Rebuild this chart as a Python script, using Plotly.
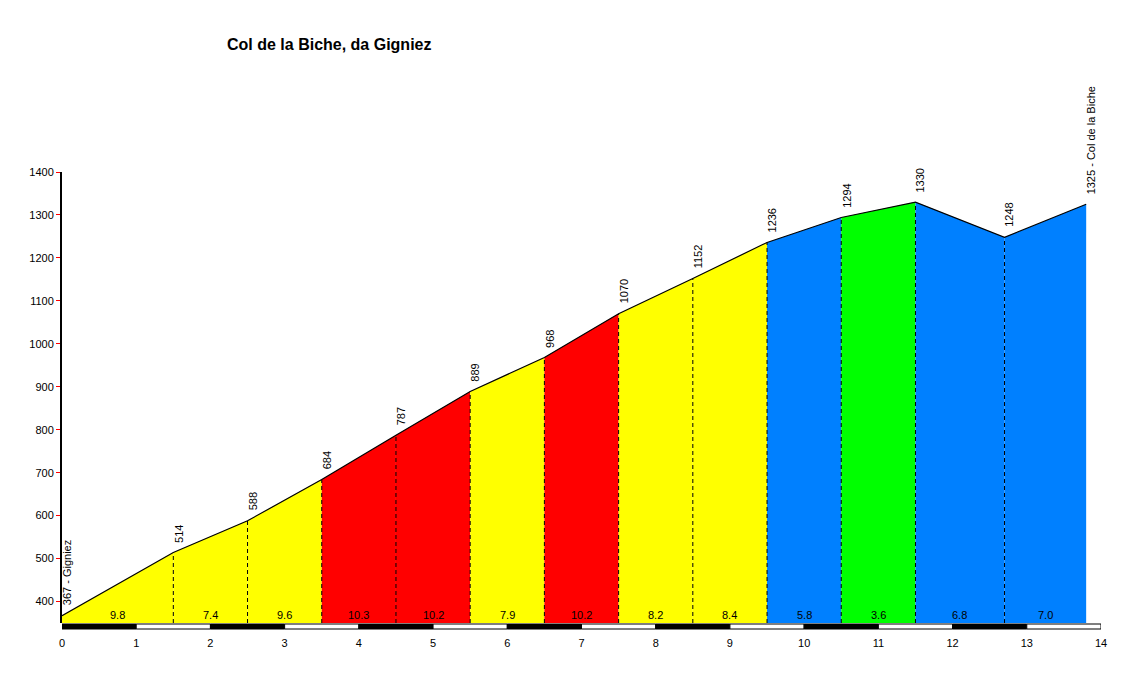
import plotly.graph_objects as go

# --- data ---
km = [0, 1.5, 2.5, 3.5, 4.5, 5.5, 6.5, 7.5, 8.5, 9.5, 10.5, 11.5, 12.7, 13.8]
alt = [367, 514, 588, 684, 787, 889, 968, 1070, 1152, 1236, 1294, 1330, 1248, 1325]
alt_labels = ["367 - Gigniez", "514", "588", "684", "787", "889", "968", "1070",
              "1152", "1236", "1294", "1330", "1248", "1325 - Col de la Biche"]
grades = ["9.8", "7.4", "9.6", "10.3", "10.2", "7.9", "10.2", "8.2", "8.4",
          "5.8", "3.6", "6.8", "7.0"]
seg_colors = ["#FFFF00", "#FFFF00", "#FFFF00", "#FF0000", "#FF0000", "#FFFF00",
              "#FF0000", "#FFFF00", "#FFFF00", "#0080FF", "#00FF00", "#0080FF", "#0080FF"]
y_ticks = [400, 500, 600, 700, 800, 900, 1000, 1100, 1200, 1300, 1400]
x_ticks = list(range(0, 15))
title = "Col de la Biche, da Gigniez"

YMIN, YMAX = 350, 1400
XMIN, XMAX = 0, 14
FONT = "Arial, Liberation Sans, sans-serif"

# page has an 8px body margin; figure is sized to fit inside the window
W, H = 1128, 665
ML, MT, MB = 54, 164, 50
MR = W - 1093

fig = go.Figure()

# filled segments
for i in range(len(grades)):
    fig.add_trace(go.Scatter(
        x=[km[i], km[i], km[i + 1], km[i + 1], km[i]],
        y=[YMIN, alt[i], alt[i + 1], YMIN, YMIN],
        fill="toself", fillcolor=seg_colors[i], mode="none",
        hoverinfo="skip", showlegend=False))

# dashed separators
for i in range(1, len(km) - 1):
    fig.add_trace(go.Scatter(
        x=[km[i], km[i]], y=[YMIN, alt[i]], mode="lines",
        line=dict(color="black", width=1, dash="4px,3px"),
        hoverinfo="skip", showlegend=False))

# profile line
fig.add_trace(go.Scatter(x=km, y=alt, mode="lines",
                         line=dict(color="black", width=1.2),
                         hoverinfo="skip", showlegend=False))

annotations = []
# altitude labels
for i in range(len(km)):
    annotations.append(dict(
        x=km[i], y=alt[i], xref="x", yref="y", text=alt_labels[i],
        textangle=-90, showarrow=False, xanchor="center", yanchor="bottom",
        xshift=5, yshift=8, font=dict(family=FONT, size=11, color="black")))
# gradient labels
for i in range(len(grades)):
    annotations.append(dict(
        x=(km[i] + km[i + 1]) / 2, y=YMIN, xref="x", yref="y", text=grades[i],
        showarrow=False, xanchor="center", yanchor="bottom", yshift=0,
        font=dict(family=FONT, size=11, color="black")))
# title
plot_w = W - ML - MR
plot_h = H - MT - MB
annotations.append(dict(
    x=(329 - 8 - ML) / plot_w, y=1 + (MT - (44 - 8)) / plot_h,
    xref="paper", yref="paper", text="<b>" + title + "</b>",
    showarrow=False, xanchor="center", yanchor="middle",
    font=dict(family=FONT, size=16, color="black")))

shapes = []
# km scale bar under the axis
for k in range(XMIN, XMAX):
    shapes.append(dict(
        type="rect", xref="x", yref="paper", ysizemode="pixel", yanchor=0,
        x0=k, x1=k + 1, y0=-1, y1=-6,
        fillcolor="black" if k % 2 == 0 else "white",
        line=dict(color="black", width=1), layer="above"))

fig.update_layout(
    width=W, height=H,
    margin=dict(l=ML, r=MR, t=MT, b=MB),
    plot_bgcolor="white", paper_bgcolor="white",
    annotations=annotations, shapes=shapes,
    xaxis=dict(range=[XMIN, XMAX], tickvals=x_ticks, showgrid=False,
               zeroline=False, showline=False, ticks="outside", ticklen=10,
               tickcolor="rgba(0,0,0,0)",
               tickfont=dict(family=FONT, size=11, color="black")),
    yaxis=dict(range=[YMIN, YMAX], tickvals=y_ticks, showgrid=False,
               zeroline=False, showline=True, linecolor="black", linewidth=2,
               ticks="outside", ticklen=4, tickcolor="red", tickwidth=1,
               tickfont=dict(family=FONT, size=11, color="black")),
)

fig.write_html("out.html")
